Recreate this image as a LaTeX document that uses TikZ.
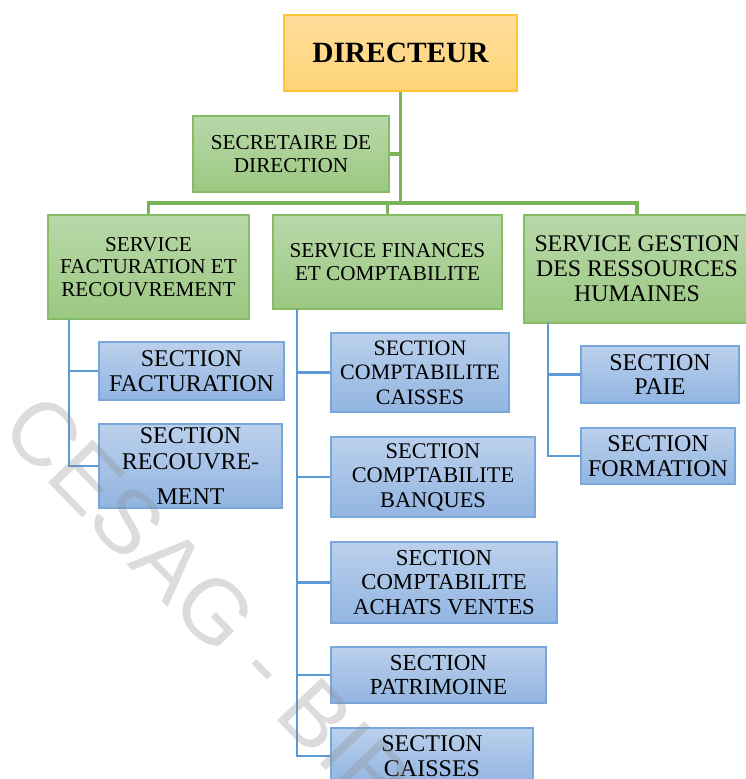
\documentclass[tikz,border=0pt]{standalone}
\usepackage{fontspec}
\setmainfont{Liberation Serif}
\newfontfamily\wmfont{Liberation Sans}
\definecolor{dirtop}{HTML}{FFDE9C}
\definecolor{dirbot}{HTML}{FFD478}
\definecolor{dirline}{HTML}{FFC634}
\definecolor{srvtop}{HTML}{B8D8A9}
\definecolor{srvbot}{HTML}{9CC882}
\definecolor{srvline}{HTML}{86BC66}
\definecolor{sectop}{HTML}{BBD0EC}
\definecolor{secbot}{HTML}{92B5E1}
\definecolor{secline}{HTML}{79A7DC}
\definecolor{glink}{HTML}{79B558}
\definecolor{blink}{HTML}{5B9BD5}

\begin{document}
\begin{tikzpicture}[x=0.5pt, y=-0.5pt,
	every node/.style={align=center, inner sep=0.5pt},
	dirbox/.style={draw=dirline, line width=0.7pt, top color=dirtop, bottom color=dirbot, font=\bfseries\fontsize{14.7}{16}\selectfont},
	srvbox/.style={draw=srvline, line width=0.6pt, top color=srvtop, bottom color=srvbot, font=\fontsize{10.6}{11.2}\selectfont},
	secbox/.style={draw=secline, line width=0.6pt, top color=sectop, bottom color=secbot, font=\fontsize{12}{12.4}\selectfont},
	gline/.style={draw=glink, line width=1.6pt},
	bline/.style={draw=blink, line width=1.4pt}]
	\useasboundingbox (0,0) rectangle (745,779);
	% direction
	\node[dirbox, minimum width=116.5pt, minimum height=38pt] (dir) at (400.5,53) {DIRECTEUR};
	\node[srvbox, minimum width=98pt, minimum height=38pt] (sec) at (291,154) {SECRETAIRE DE\\DIRECTION};
	% services
	\node[srvbox, minimum width=100.5pt, minimum height=52pt] (srvfact) at (148.5,267) {SERVICE\\FACTURATION ET\\RECOUVREMENT};
	\node[srvbox, minimum width=114.5pt, minimum height=47pt] (srvfin) at (387.5,262) {SERVICE FINANCES\\ET COMPTABILITE};
	\node[srvbox, minimum width=113pt, minimum height=54pt, font=\fontsize{11.9}{12.5}\selectfont] (srvrh) at (637,269) {SERVICE GESTION\\DES RESSOURCES\\HUMAINES};
	% sections
	\node[secbox, minimum width=92.5pt, minimum height=29pt] (secfact) at (191.5,371) {SECTION\\FACTURATION};
	\node[secbox, minimum width=91.5pt, minimum height=42pt, font=\fontsize{12}{12.8}\selectfont] (secrec) at (190.5,466) {SECTION\\RECOUVRE-\\[4.7pt]MENT};
	\node[secbox, minimum width=89pt, minimum height=39.5pt, font=\fontsize{11}{12.3}\selectfont] (cpcaisses) at (420,372.5) {SECTION\\COMPTABILITE\\CAISSES};
	\node[secbox, minimum width=102pt, minimum height=40pt, font=\fontsize{11.2}{12.3}\selectfont] (cpbanques) at (433,477) {SECTION\\COMPTABILITE\\BANQUES};
	\node[secbox, minimum width=113pt, minimum height=40.5pt, font=\fontsize{11.4}{12.3}\selectfont] (cpachats) at (444,582.5) {SECTION\\COMPTABILITE\\ACHATS VENTES};
	\node[secbox, minimum width=107.5pt, minimum height=28pt, font=\fontsize{11.5}{12.4}\selectfont] (patrimoine) at (438.5,675) {SECTION\\PATRIMOINE};
	\node[secbox, minimum width=101pt, minimum height=28pt] (caisses) at (432,756) {SECTION\\CAISSES};
	\node[secbox, minimum width=79pt, minimum height=28.5pt] (paie) at (660,374.5) {SECTION\\PAIE};
	\node[secbox, minimum width=77pt, minimum height=28pt] (formation) at (658,456) {SECTION\\FORMATION};
	% green links
	\coordinate (bus) at (400,203);
	\draw[gline] (dir.south) -- (dir.south |- bus);
	\draw[gline] (sec.east) -- (sec.east -| dir.south);
	\draw[gline] (srvfact.north) -- (srvfact.north |- bus) -- (srvrh.north |- bus) -- (srvrh.north);
	\draw[gline] (srvfin.north) -- (srvfin.north |- bus);
	% blue links
	\coordinate (facttrunk) at (69,319);
	\coordinate (fintrunk) at (297,309);
	\coordinate (rhtrunk) at (548,323);
	\draw[bline] (facttrunk) |- (secrec.west);
	\draw[bline] (facttrunk |- secfact.west) -- (secfact.west);
	\draw[bline] (fintrunk) |- (caisses.west);
	\foreach \n in {cpcaisses,cpbanques,cpachats,patrimoine}
		\draw[bline] (fintrunk |- \n.west) -- (\n.west);
	\draw[bline] (rhtrunk) |- (formation.west);
	\draw[bline] (rhtrunk |- paie.west) -- (paie.west);
	% watermark
	\node[rotate=-46, font=\wmfont\fontsize{45}{45}\selectfont, text=black!45, text opacity=0.3] (watermark) at (208,604) {CESAG - BIB};
\end{tikzpicture}
\end{document}
